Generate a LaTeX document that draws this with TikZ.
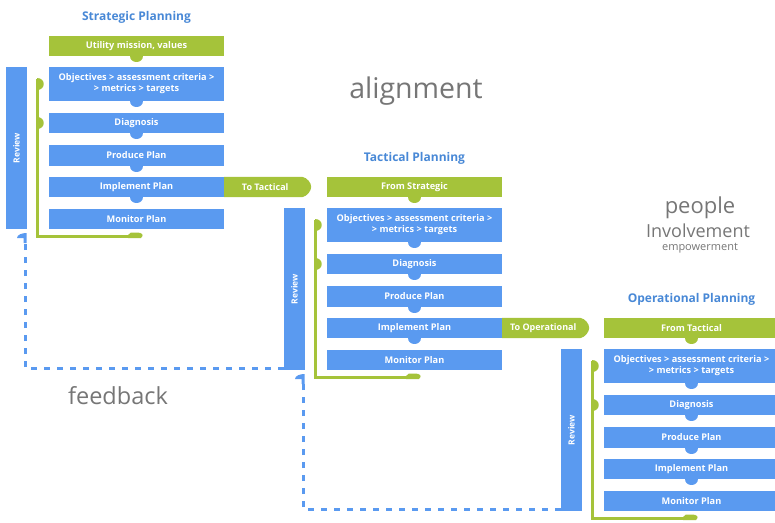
\documentclass[tikz,border=0pt]{standalone}
\usepackage{fontspec}
\setmainfont{Open Sans}
\usetikzlibrary{arrows.meta}

\definecolor{planblue}{RGB}{90,154,240}
\definecolor{plangreen}{RGB}{165,195,58}
\definecolor{titleblue}{RGB}{72,136,214}
\definecolor{wordgray}{RGB}{118,118,118}

\tikzset{
  stagebox/.style={rectangle, fill=planblue, text=white, inner sep=0pt,
    font=\fontsize{9.2}{11}\selectfont\bfseries, minimum width=175pt, align=center},
  greenbox/.style={stagebox, fill=plangreen},
  reviewbar/.style={rectangle, fill=planblue, text=white, inner sep=0pt,
    font=\fontsize{8.5}{9}\selectfont\bfseries, minimum width=21pt, minimum height=162pt},
  handtext/.style={text=white, inner sep=0pt, font=\fontsize{9}{10}\selectfont\bfseries},
  stagetitle/.style={text=titleblue, inner sep=0pt, font=\fontsize{12}{14}\selectfont\bfseries},
  loopline/.style={draw=plangreen, line width=3pt},
  feedline/.style={draw=planblue, line width=3pt, dash pattern=on 6pt off 7pt},
  bigword/.style={text=wordgray, inner sep=0pt},
}

% rounded tab hanging below a box
\newcommand\dropbump[2]{%
  \fill[#2] ([xshift=-6.5pt,yshift=0.5pt]#1.south) .. controls +(0,-8pt) and +(0,-8pt)
    .. ([xshift=6.5pt,yshift=0.5pt]#1.south) -- cycle;}
% rounded tab on the review loop, pointing at a box
\newcommand\sidebump[1]{%
  \fill[plangreen] ([yshift=6pt]#1) .. controls +(9pt,0) and +(9pt,0)
    .. ([yshift=-6pt]#1) -- cycle;}
% flag-shaped head where a feedback line enters a review bar
\newcommand\feedhead[1]{%
  \fill[planblue] ([xshift=1.5pt]#1) -- ++(0,-10pt) -- ++(-3pt,0) -- ++(0,5pt)
    -- ++(-6.5pt,0) .. controls +(0,3.5pt) and +(-4pt,0) .. ([xshift=1.5pt]#1) -- cycle;}

% one planning level: prefix, shift, title, first box text
\newcommand\planstage[4]{%
\begin{scope}[shift={#2}]
  \node[stagetitle] (#1-title) at (136.5,17) {#3};
  \node[greenbox, minimum height=20pt] (#1-top) at (136.5,46) {#4};
  \node[stagebox, minimum height=34pt] (#1-obj) at (136.5,84)
    {Objectives > assessment criteria >\\> metrics > targets};
  \node[stagebox, minimum height=20pt] (#1-diag) at (136.5,123) {Diagnosis};
  \node[stagebox, minimum height=21pt] (#1-prod) at (136.5,155.5) {Produce Plan};
  \node[stagebox, minimum height=20pt] (#1-impl) at (136.5,187) {Implement Plan};
  \node[stagebox, minimum height=20pt] (#1-mon) at (136.5,219) {Monitor Plan};
  \node[reviewbar] (#1-rev) at (16.5,148) {\rotatebox{90}{Review}};
  \dropbump{#1-top}{plangreen}
  \dropbump{#1-obj}{planblue}
  \dropbump{#1-diag}{planblue}
  \dropbump{#1-prod}{planblue}
  \dropbump{#1-impl}{planblue}
  % review loop from Monitor back to Objectives and Diagnosis
  \coordinate (#1-corner) at (37,236.5);
  \coordinate (#1-looptop) at (37,79);
  \coordinate (#1-hitobj) at (37,84);
  \coordinate (#1-hitdiag) at (37,123);
  \coordinate (#1-fbtip) at (25,233);
  \draw[loopline] (#1-mon.south |- #1-corner) -- (#1-corner) -- (#1-looptop);
  \fill[plangreen] (128,235) -- (131,232.5) -- (137,232.5)
    .. controls (142,232.5) and (144.5,235) .. (141,238) -- (128,238) -- cycle;
  \sidebump{#1-hitobj}
  \sidebump{#1-hitdiag}
\end{scope}}

% hand-off arrow to the next level
\newcommand\handoff[2]{%
  \fill[plangreen] (#1-impl.north east) -- ++(78pt,0)
    .. controls +(5pt,-1pt) and +(0,4pt) .. ++(9pt,-10pt)
    .. controls +(0,-4pt) and +(5pt,1pt) .. ([xshift=78pt]#1-impl.south east)
    -- (#1-impl.south east) -- cycle;
  \node[handtext] (#1-hand) at ([xshift=41pt]#1-impl.east) {#2};}

\begin{document}
\begin{tikzpicture}[x=1pt,y=-1pt]
  \useasboundingbox (0,0) rectangle (775,522);
  \clip (0,0) rectangle (775,522);

  \planstage{S}{(0,0)}{Strategic Planning}{Utility mission, values}
  \planstage{T}{(278,141)}{Tactical Planning}{From Strategic}
  \planstage{O}{(555,282)}{Operational Planning}{From Tactical}
  \handoff{S}{To Tactical}
  \handoff{T}{To Operational}

  % feedback from each level's review to the level above
  \draw[feedline] ([yshift=2pt]T-rev.south west) -| ([yshift=-9pt]S-fbtip);
  \feedhead{S-fbtip}
  \draw[feedline] ([yshift=2pt]O-rev.south west) -| ([yshift=-9pt]T-fbtip);
  \feedhead{T-fbtip}

  \node[bigword, font=\fontsize{28.5}{32}\selectfont] (w-align) at (416,91) {alignment};
  \node[bigword, font=\fontsize{23.5}{27}\selectfont] (w-feed) at (118,396) {feedback};
  \node[bigword, font=\fontsize{22}{26}\selectfont] (w-people) at (700,208) {people};
  \node[bigword, font=\fontsize{18}{21}\selectfont] (w-inv) at (698,231) {Involvement};
  \node[bigword, font=\fontsize{11}{13}\selectfont] (w-emp) at (700,248) {empowerment};
\end{tikzpicture}
\end{document}
